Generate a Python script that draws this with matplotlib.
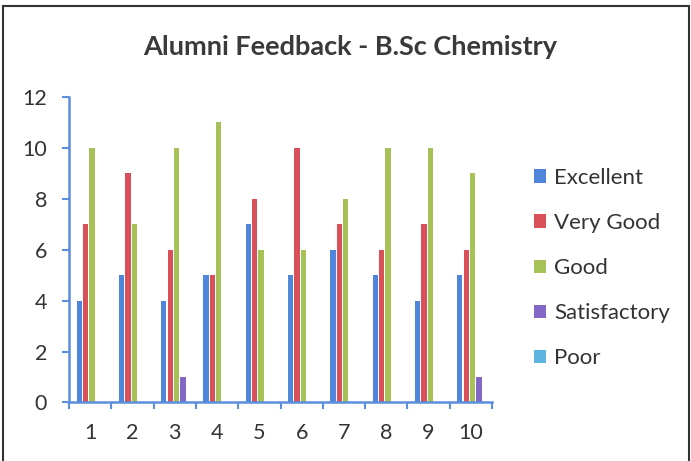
import matplotlib
matplotlib.use("Agg")
import matplotlib.pyplot as plt
import numpy as np
from matplotlib.patches import Rectangle

categories = ["1", "2", "3", "4", "5", "6", "7", "8", "9", "10"]
series_names = ["Excellent", "Very Good", "Good", "Satisfactory", "Poor"]
excellent = [4, 5, 4, 5, 7, 5, 6, 5, 4, 5]
very_good = [7, 9, 6, 5, 8, 10, 7, 6, 7, 6]
good = [10, 7, 10, 11, 6, 6, 8, 10, 10, 9]
satisfactory = [0, 0, 1, 0, 0, 0, 0, 0, 0, 1]
poor = [0, 0, 0, 0, 0, 0, 0, 0, 0, 0]
yticks = [0, 2, 4, 6, 8, 10, 12]

colors = ["#4F86DB", "#D9505A", "#A6C256", "#8466C4", "#5DB5E0"]
axis_blue = "#5B8FDB"

plt.rcParams['font.family'] = ['Lato', 'DejaVu Sans']

fig = plt.figure(figsize=(6.91, 4.61), dpi=100)
fig.patch.set_facecolor("white")
ax = fig.add_axes([0.100, 0.127, 0.612, 0.663])

x = np.arange(len(categories))
data = [excellent, very_good, good, satisfactory, poor]
step = 0.15
width = 0.125
for i, (vals, name, c) in enumerate(zip(data, series_names, colors)):
    ax.bar(x + (i - 2) * step + 0.04, vals, width=width, color=c, label=name)

ax.set_xlim(-0.5, len(categories) - 0.5)
ax.set_ylim(0, 12)
ax.set_yticks(yticks)
ax.set_yticklabels([str(t) for t in yticks])
ax.set_xticks(x)
ax.set_xticklabels(categories)
ax.set_xticks(np.arange(-0.5, len(categories), 1.0), minor=True)
ax.tick_params(axis='x', which='major', length=0, pad=15, labelsize=15.5, colors="#333333")
ax.tick_params(axis='x', which='minor', length=5, width=1.5, color=axis_blue, direction='out')
ax.tick_params(axis='y', which='major', length=5, width=1.5, color=axis_blue, direction='out',
               pad=11, labelsize=15.5, labelcolor="#333333")
for s in ["top", "right"]:
    ax.spines[s].set_visible(False)
for s in ["left", "bottom"]:
    ax.spines[s].set_color(axis_blue)
    ax.spines[s].set_linewidth(1.8)

fig.text(0.507, 0.898, "Alumni Feedback - B.Sc Chemistry", ha="center", va="center",
         fontsize=19.5, fontweight="bold", color="#3A3A3A")

leg = ax.legend(loc="upper left", bbox_to_anchor=(0.760, 0.655), bbox_transform=fig.transFigure,
                frameon=False, fontsize=16, handlelength=0.55, handleheight=0.55,
                handletextpad=0.35, labelspacing=1.13, borderaxespad=0)
for t in leg.get_texts():
    t.set_color("#333333")

fig.add_artist(Rectangle((0.005, -0.02), 0.992, 1.008, transform=fig.transFigure,
                         fill=False, edgecolor="#333333", linewidth=1.5))

fig.savefig("out.png", dpi=100)
